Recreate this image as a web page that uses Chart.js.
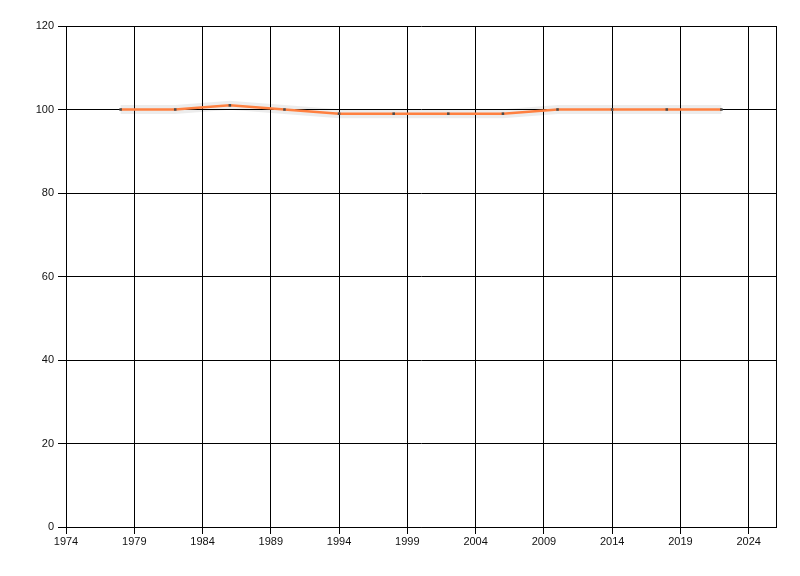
<!DOCTYPE html>
<html>
<head>
<meta charset="utf-8">
<script src="https://cdn.jsdelivr.net/npm/chart.js@4.4.1/dist/chart.umd.min.js"></script>
<style>
html,body{margin:0;padding:0;background:#fff;}
#wrap{width:800px;height:576px;}
</style>
</head>
<body>
<div id="wrap"><canvas id="c" width="800" height="576"></canvas></div>
<script>
const years = [1978, 1982, 1986, 1990, 1994, 1998, 2002, 2006, 2010, 2014, 2018, 2022];
const values = [100, 100, 101, 100, 99, 99, 99, 99, 100, 100, 100, 100];
const xTicks = [1974, 1979, 1984, 1989, 1994, 1999, 2004, 2009, 2014, 2019, 2024];
const yTicks = [0, 20, 40, 60, 80, 100, 120];

const pts = years.map((y, i) => ({x: y, y: values[i]}));

const borderPlugin = {
  id: 'rightBorder',
  afterDatasetsDraw(chart) {
    const {ctx, chartArea} = chart;
    ctx.save();
    ctx.strokeStyle = '#000';
    ctx.lineWidth = 1;
    ctx.beginPath();
    const x = Math.round(chartArea.right) + 0.5;
    ctx.moveTo(x, chartArea.top);
    ctx.lineTo(x, chartArea.bottom);
    ctx.stroke();
    ctx.restore();
  }
};

new Chart(document.getElementById('c'), {
  type: 'line',
  data: {
    datasets: [
      {
        data: pts,
        borderColor: '#FF8040',
        borderWidth: 2.5,
        pointStyle: 'rect',
        pointRadius: 1.8,
        pointBackgroundColor: '#4a4a4a',
        pointBorderColor: '#4a4a4a',
        pointBorderWidth: 0,
        tension: 0,
        fill: false,
        order: 0
      },
      {
        data: pts,
        borderColor: 'rgba(0,0,0,0.075)',
        borderWidth: 9,
        pointRadius: 0,
        tension: 0,
        fill: false,
        order: 1
      }
    ]
  },
  options: {
    responsive: false,
    animation: false,
    events: [],
    layout: {padding: {top: 26, right: 24, bottom: 0, left: 0}},
    plugins: {legend: {display: false}, tooltip: {enabled: false}},
    scales: {
      x: {
        type: 'linear',
        min: 1974,
        max: 2026,
        afterBuildTicks(scale) { scale.ticks = xTicks.map(v => ({value: v})); },
        afterFit(scale) { scale.height = 49; },
        grid: {color: '#000', lineWidth: 1, tickLength: 7, tickColor: '#000'},
        border: {color: '#000', width: 1},
        ticks: {
          color: '#111',
          padding: 1,
          maxRotation: 0,
          autoSkip: false,
          font: {family: 'Liberation Sans, Arial, sans-serif', size: 11},
          callback: v => String(v)
        }
      },
      y: {
        min: 0,
        max: 120,
        afterBuildTicks(scale) { scale.ticks = yTicks.map(v => ({value: v})); },
        afterFit(scale) { scale.width = 66; },
        grid: {color: '#000', lineWidth: 1, tickLength: 8, tickColor: '#000'},
        border: {color: '#000', width: 1},
        ticks: {
          color: '#111',
          padding: 4,
          font: {family: 'Liberation Sans, Arial, sans-serif', size: 11},
          callback: v => String(v)
        }
      }
    }
  },
  plugins: [borderPlugin]
});
</script>
</body>
</html>
